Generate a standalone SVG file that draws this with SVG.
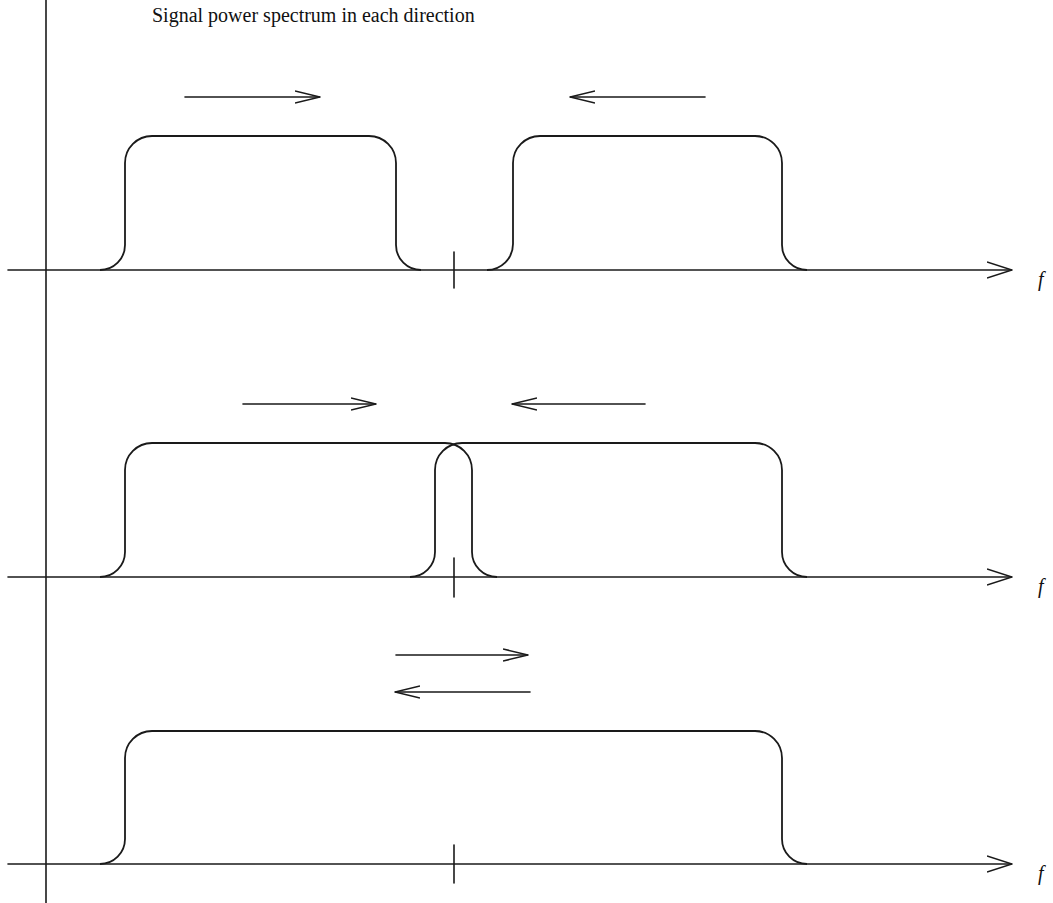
<svg xmlns="http://www.w3.org/2000/svg" width="1053" height="903" viewBox="0 0 1053 903">
<style>
.ln{fill:none;stroke:#1a1a1a;stroke-width:1.6;stroke-linecap:round}
.pl{fill:none;stroke:#1a1a1a;stroke-width:1.8}
.tx{font-family:"Liberation Serif","Times New Roman",serif;fill:#111}
.fx{font-family:"Liberation Serif","Times New Roman",serif;font-style:italic;font-size:20px;fill:#111}
</style>
<defs>
<marker id="ah" viewBox="0 0 25 14" refX="25" refY="7" markerWidth="25" markerHeight="14" markerUnits="userSpaceOnUse" orient="auto">
<path d="M0,1 L25,7 L0,13" fill="none" stroke="#1a1a1a" stroke-width="1.6"/>
</marker>
<marker id="axh" viewBox="0 0 25 18" refX="25" refY="9" markerWidth="25" markerHeight="18" markerUnits="userSpaceOnUse" orient="auto">
<path d="M0,1 L25,9 L0,17" fill="none" stroke="#1a1a1a" stroke-width="1.6"/>
</marker>
</defs>
<rect width="1053" height="903" fill="#fff"/>
<g id="title"><text class="tx" x="152" y="22" font-size="20">Signal power spectrum in each direction</text></g>
<g id="connectors">
<line class="ln" x1="46" y1="0" x2="46" y2="903"/>
<line class="ln" x1="8" y1="270" x2="1012" y2="270" marker-end="url(#axh)"/>
<line class="ln" x1="8" y1="577" x2="1012" y2="577" marker-end="url(#axh)"/>
<line class="ln" x1="8" y1="864" x2="1012" y2="864" marker-end="url(#axh)"/>
<line class="ln" x1="454" y1="252" x2="454" y2="288"/>
<line class="ln" x1="454" y1="558" x2="454" y2="597"/>
<line class="ln" x1="454" y1="845" x2="454" y2="883"/>
<line class="ln" x1="185" y1="97" x2="320" y2="97" marker-end="url(#ah)"/>
<line class="ln" x1="705" y1="97" x2="570" y2="97" marker-end="url(#ah)"/>
<line class="ln" x1="243" y1="404" x2="376" y2="404" marker-end="url(#ah)"/>
<line class="ln" x1="645" y1="404" x2="512" y2="404" marker-end="url(#ah)"/>
<line class="ln" x1="396" y1="655" x2="528" y2="655" marker-end="url(#ah)"/>
<line class="ln" x1="530" y1="692" x2="395" y2="692" marker-end="url(#ah)"/>
</g>
<g id="row1">
<path class="pl" d="M100,270 A25,25 0 0 0 125,245 L125,163 A27,27 0 0 1 152,136 L369,136 A27,27 0 0 1 396,163 L396,245 A25,25 0 0 0 421,270"/>
<path class="pl" d="M487,270 A26,26 0 0 0 513,244 L513,163 A27,27 0 0 1 540,136 L755,136 A27,27 0 0 1 782,163 L782,245 A25,25 0 0 0 807,270"/>
<text class="fx" x="1038" y="286">f</text>
</g>
<g id="row2">
<path class="pl" d="M100,577 A25,25 0 0 0 125,552 L125,470 A27,27 0 0 1 152,443 L445,443 A27,27 0 0 1 472,470 L472,552 A25,25 0 0 0 497,577"/>
<path class="pl" d="M410,577 A25,25 0 0 0 435,552 L435,470 A27,27 0 0 1 462,443 L755,443 A27,27 0 0 1 782,470 L782,552 A25,25 0 0 0 807,577"/>
<text class="fx" x="1038" y="593">f</text>
</g>
<g id="row3">
<path class="pl" d="M100,864 A25,25 0 0 0 125,839 L125,758 A27,27 0 0 1 152,731 L755,731 A27,27 0 0 1 782,758 L782,839 A25,25 0 0 0 807,864"/>
<text class="fx" x="1038" y="880">f</text>
</g>
</svg>
